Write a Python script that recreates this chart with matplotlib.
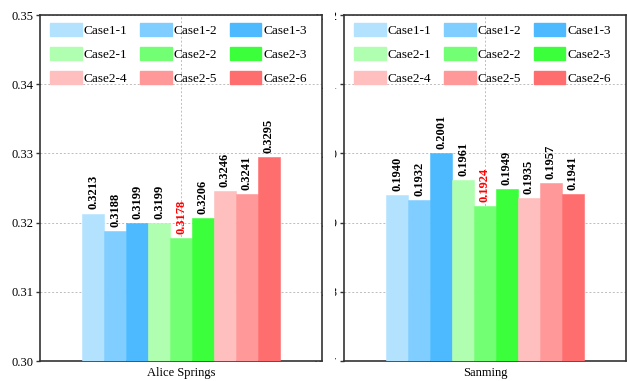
import matplotlib
matplotlib.use("Agg")
import matplotlib.pyplot as plt
from matplotlib.patches import Patch, Rectangle

plt.rcParams['font.family'] = ['Liberation Serif', 'DejaVu Serif']

cases = ["Case1-1", "Case1-2", "Case1-3",
         "Case2-1", "Case2-2", "Case2-3",
         "Case2-4", "Case2-5", "Case2-6"]
colors = ["#b3e2ff", "#80cdff", "#4dbaff",
          "#b0ffb0", "#73ff73", "#3aff3a",
          "#ffbfbf", "#ff9898", "#ff6e6e"]

sites = ["Alice Springs", "Sanming"]
alice_values = [0.3213, 0.3188, 0.3199, 0.3199, 0.3178, 0.3206, 0.3246, 0.3241, 0.3295]
sanming_values = [0.1940, 0.1932, 0.2001, 0.1961, 0.1924, 0.1949, 0.1935, 0.1957, 0.1941]
ylims = [(0.30, 0.35), (0.17, 0.22)]

W, H = 627, 381
fig = plt.figure(figsize=(W / 100, H / 100), dpi=100)
ax_r = fig.add_axes([344/W, 20/H, 282/W, 346/H])
ax_l = fig.add_axes([40/W, 20/H, 282/W, 346/H])
ax_l.set_zorder(1)

group_width = 0.702
bw = group_width / len(cases)

for ax, site, vals, yl in zip([ax_l, ax_r], sites, [alice_values, sanming_values], ylims):
    ax.set_xlim(-0.5, 0.5)
    ax.set_ylim(*yl)
    vmin = min(vals)
    for i, (v, c) in enumerate(zip(vals, colors)):
        x = -group_width / 2 + bw * (i + 0.5)
        ax.bar(x, v - yl[0], bottom=yl[0], width=bw, color=c, zorder=3,
               edgecolor=c, linewidth=0.4)
        ax.annotate(f"{v:.4f}", (x, v), xytext=(0, 3), textcoords="offset points",
                    rotation=90, ha="center", va="bottom", fontsize=9,
                    fontweight="bold", color="red" if v == vmin else "black",
                    zorder=4)
    ax.set_yticks([yl[0] + 0.01 * k for k in range(6)])
    ax.set_yticklabels([f"{yl[0] + 0.01 * k:.2f}" for k in range(6)], fontsize=9)
    ax.set_xticks([0])
    ax.set_xticklabels([site], fontsize=9)
    ax.tick_params(axis="x", length=0, pad=4)
    ax.tick_params(axis="y", direction="out", length=3, width=1, color="#333333", pad=2)
    ax.grid(True, linestyle=(0, (2, 2)), color="#bdbdbd", linewidth=0.7, zorder=0)
    for s in ax.spines.values():
        s.set_color("#333333")
        s.set_linewidth(1.2)

    order = [0, 3, 6, 1, 4, 7, 2, 5, 8]
    handles = [Patch(facecolor=colors[k], edgecolor=colors[k], label=cases[k]) for k in order]
    leg = ax.legend(handles=handles, ncol=3, loc="upper left",
                    bbox_to_anchor=(10/282, 1 - 8/346), frameon=False, fontsize=9.5,
                    handlelength=2.4, handleheight=1.15, handletextpad=0.15,
                    columnspacing=0.95, labelspacing=0.75, borderaxespad=0,
                    borderpad=0)
    leg.set_zorder(5)

# white strips across the gap between the panels
for (x0, y0, w, h) in [(323, 0, 12, H), (300, 0, 35, 18.8), (300, 367.2, 35, H - 367.2)]:
    fig.add_artist(Rectangle((x0/W, y0/H), w/W, h/H, transform=fig.transFigure,
                             facecolor="white", edgecolor="none", zorder=10))

fig.savefig("out.png", dpi=100)
